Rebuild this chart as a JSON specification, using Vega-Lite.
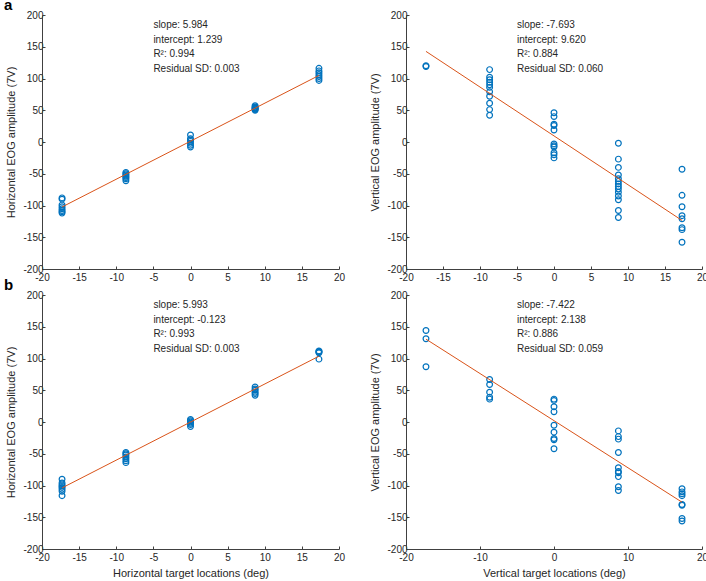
{
  "$schema": "https://vega.github.io/schema/vega-lite/v6.json",
  "padding": {"left": 4, "top": -2, "right": 0, "bottom": 1},
  "background": "white",
  "config": {
    "view": {"stroke": null},
    "font": "Liberation Sans",
    "axis": {
      "grid": false,
      "domainColor": "#404040",
      "tickColor": "#404040",
      "tickSize": -3,
      "labelFont": "Liberation Sans",
      "labelFontSize": 10,
      "labelColor": "#262626",
      "labelFlush": false,
      "labelOverlap": false,
      "labelExpr": "'' + datum.value",
      "titleFont": "Liberation Sans",
      "titleFontSize": 11,
      "titleFontWeight": "normal",
      "titleColor": "#262626"
    },
    "axisX": {"labelPadding": 6, "titlePadding": 5},
    "axisY": {"labelPadding": 2, "titlePadding": 6}
  },
  "datasets": {
    "pts": [
      {"p": "aL", "x": -17.3, "y": -88}, {"p": "aL", "x": -17.3, "y": -90}, {"p": "aL", "x": -17.3, "y": -99}, {"p": "aL", "x": -17.3, "y": -102}, {"p": "aL", "x": -17.3, "y": -105}, {"p": "aL", "x": -17.3, "y": -108}, {"p": "aL", "x": -17.3, "y": -110}, {"p": "aL", "x": -17.3, "y": -112},
      {"p": "aL", "x": -8.7, "y": -48}, {"p": "aL", "x": -8.7, "y": -50}, {"p": "aL", "x": -8.7, "y": -52}, {"p": "aL", "x": -8.7, "y": -54}, {"p": "aL", "x": -8.7, "y": -56}, {"p": "aL", "x": -8.7, "y": -58}, {"p": "aL", "x": -8.7, "y": -61},
      {"p": "aL", "x": 0, "y": 11}, {"p": "aL", "x": 0, "y": 5}, {"p": "aL", "x": 0, "y": 3}, {"p": "aL", "x": 0, "y": 1}, {"p": "aL", "x": 0, "y": -2}, {"p": "aL", "x": 0, "y": -5}, {"p": "aL", "x": 0, "y": -8},
      {"p": "aL", "x": 8.7, "y": 57}, {"p": "aL", "x": 8.7, "y": 55}, {"p": "aL", "x": 8.7, "y": 54}, {"p": "aL", "x": 8.7, "y": 53}, {"p": "aL", "x": 8.7, "y": 52}, {"p": "aL", "x": 8.7, "y": 51}, {"p": "aL", "x": 8.7, "y": 50},
      {"p": "aL", "x": 17.3, "y": 116}, {"p": "aL", "x": 17.3, "y": 112}, {"p": "aL", "x": 17.3, "y": 109}, {"p": "aL", "x": 17.3, "y": 106}, {"p": "aL", "x": 17.3, "y": 103}, {"p": "aL", "x": 17.3, "y": 100}, {"p": "aL", "x": 17.3, "y": 97},

      {"p": "aR", "x": -17.3, "y": 119}, {"p": "aR", "x": -17.3, "y": 120},
      {"p": "aR", "x": -8.7, "y": 114}, {"p": "aR", "x": -8.7, "y": 102}, {"p": "aR", "x": -8.7, "y": 98}, {"p": "aR", "x": -8.7, "y": 94}, {"p": "aR", "x": -8.7, "y": 90}, {"p": "aR", "x": -8.7, "y": 86}, {"p": "aR", "x": -8.7, "y": 79}, {"p": "aR", "x": -8.7, "y": 72}, {"p": "aR", "x": -8.7, "y": 61}, {"p": "aR", "x": -8.7, "y": 51}, {"p": "aR", "x": -8.7, "y": 42},
      {"p": "aR", "x": 0, "y": 46}, {"p": "aR", "x": 0, "y": 40}, {"p": "aR", "x": 0, "y": 28}, {"p": "aR", "x": 0, "y": 26}, {"p": "aR", "x": 0, "y": 19}, {"p": "aR", "x": 0, "y": -3}, {"p": "aR", "x": 0, "y": -6}, {"p": "aR", "x": 0, "y": -8}, {"p": "aR", "x": 0, "y": -17}, {"p": "aR", "x": 0, "y": -20}, {"p": "aR", "x": 0, "y": -25},
      {"p": "aR", "x": 8.7, "y": -2}, {"p": "aR", "x": 8.7, "y": -27}, {"p": "aR", "x": 8.7, "y": -40}, {"p": "aR", "x": 8.7, "y": -52}, {"p": "aR", "x": 8.7, "y": -58}, {"p": "aR", "x": 8.7, "y": -62}, {"p": "aR", "x": 8.7, "y": -66}, {"p": "aR", "x": 8.7, "y": -70}, {"p": "aR", "x": 8.7, "y": -74}, {"p": "aR", "x": 8.7, "y": -79}, {"p": "aR", "x": 8.7, "y": -85}, {"p": "aR", "x": 8.7, "y": -91}, {"p": "aR", "x": 8.7, "y": -108}, {"p": "aR", "x": 8.7, "y": -119},
      {"p": "aR", "x": 17.3, "y": -43}, {"p": "aR", "x": 17.3, "y": -84}, {"p": "aR", "x": 17.3, "y": -102}, {"p": "aR", "x": 17.3, "y": -116}, {"p": "aR", "x": 17.3, "y": -121}, {"p": "aR", "x": 17.3, "y": -135}, {"p": "aR", "x": 17.3, "y": -138}, {"p": "aR", "x": 17.3, "y": -158},

      {"p": "bL", "x": -17.3, "y": -90}, {"p": "bL", "x": -17.3, "y": -96}, {"p": "bL", "x": -17.3, "y": -99}, {"p": "bL", "x": -17.3, "y": -101}, {"p": "bL", "x": -17.3, "y": -103}, {"p": "bL", "x": -17.3, "y": -106}, {"p": "bL", "x": -17.3, "y": -109}, {"p": "bL", "x": -17.3, "y": -116},
      {"p": "bL", "x": -8.7, "y": -48}, {"p": "bL", "x": -8.7, "y": -50}, {"p": "bL", "x": -8.7, "y": -52}, {"p": "bL", "x": -8.7, "y": -55}, {"p": "bL", "x": -8.7, "y": -58}, {"p": "bL", "x": -8.7, "y": -61}, {"p": "bL", "x": -8.7, "y": -64},
      {"p": "bL", "x": 0, "y": 4}, {"p": "bL", "x": 0, "y": 2}, {"p": "bL", "x": 0, "y": 0}, {"p": "bL", "x": 0, "y": -2}, {"p": "bL", "x": 0, "y": -4}, {"p": "bL", "x": 0, "y": -7},
      {"p": "bL", "x": 8.7, "y": 55}, {"p": "bL", "x": 8.7, "y": 52}, {"p": "bL", "x": 8.7, "y": 50}, {"p": "bL", "x": 8.7, "y": 47}, {"p": "bL", "x": 8.7, "y": 45}, {"p": "bL", "x": 8.7, "y": 42},
      {"p": "bL", "x": 17.3, "y": 112}, {"p": "bL", "x": 17.3, "y": 111}, {"p": "bL", "x": 17.3, "y": 110}, {"p": "bL", "x": 17.3, "y": 109}, {"p": "bL", "x": 17.3, "y": 99},

      {"p": "bR", "x": -17.3, "y": 144}, {"p": "bR", "x": -17.3, "y": 131}, {"p": "bR", "x": -17.3, "y": 87},
      {"p": "bR", "x": -8.7, "y": 67}, {"p": "bR", "x": -8.7, "y": 59}, {"p": "bR", "x": -8.7, "y": 47}, {"p": "bR", "x": -8.7, "y": 39}, {"p": "bR", "x": -8.7, "y": 36},
      {"p": "bR", "x": 0, "y": 36}, {"p": "bR", "x": 0, "y": 34}, {"p": "bR", "x": 0, "y": 24}, {"p": "bR", "x": 0, "y": 16}, {"p": "bR", "x": 0, "y": -5}, {"p": "bR", "x": 0, "y": -16}, {"p": "bR", "x": 0, "y": -26}, {"p": "bR", "x": 0, "y": -28}, {"p": "bR", "x": 0, "y": -42},
      {"p": "bR", "x": 8.7, "y": -14}, {"p": "bR", "x": 8.7, "y": -23}, {"p": "bR", "x": 8.7, "y": -27}, {"p": "bR", "x": 8.7, "y": -48}, {"p": "bR", "x": 8.7, "y": -72}, {"p": "bR", "x": 8.7, "y": -78}, {"p": "bR", "x": 8.7, "y": -80}, {"p": "bR", "x": 8.7, "y": -86}, {"p": "bR", "x": 8.7, "y": -102}, {"p": "bR", "x": 8.7, "y": -108},
      {"p": "bR", "x": 17.3, "y": -105}, {"p": "bR", "x": 17.3, "y": -110}, {"p": "bR", "x": 17.3, "y": -113}, {"p": "bR", "x": 17.3, "y": -116}, {"p": "bR", "x": 17.3, "y": -130}, {"p": "bR", "x": 17.3, "y": -131}, {"p": "bR", "x": 17.3, "y": -152}, {"p": "bR", "x": 17.3, "y": -156}
    ],
    "fit": [
      {"p": "aL", "x": -17.3, "y": -102.3}, {"p": "aL", "x": 17.3, "y": 104.8},
      {"p": "aR", "x": -17.3, "y": 142.7}, {"p": "aR", "x": 17.3, "y": -123.5},
      {"p": "bL", "x": -17.3, "y": -103.8}, {"p": "bL", "x": 17.3, "y": 103.6},
      {"p": "bR", "x": -17.3, "y": 130.5}, {"p": "bR", "x": 17.3, "y": -126.3}
    ],
    "notes": [
      {"p": "aL", "x": -5, "y": 184, "t": "slope: 5.984"}, {"p": "aL", "x": -5, "y": 161, "t": "intercept: 1.239"}, {"p": "aL", "x": -5, "y": 138, "t": "R²: 0.994"}, {"p": "aL", "x": -5, "y": 115, "t": "Residual SD: 0.003"},
      {"p": "aR", "x": -5, "y": 184, "t": "slope: -7.693"}, {"p": "aR", "x": -5, "y": 161, "t": "intercept: 9.620"}, {"p": "aR", "x": -5, "y": 138, "t": "R²: 0.884"}, {"p": "aR", "x": -5, "y": 115, "t": "Residual SD: 0.060"},
      {"p": "bL", "x": -5, "y": 184, "t": "slope: 5.993"}, {"p": "bL", "x": -5, "y": 161, "t": "intercept: -0.123"}, {"p": "bL", "x": -5, "y": 138, "t": "R²: 0.993"}, {"p": "bL", "x": -5, "y": 115, "t": "Residual SD: 0.003"},
      {"p": "bR", "x": -5, "y": 184, "t": "slope: -7.422"}, {"p": "bR", "x": -5, "y": 161, "t": "intercept: 2.138"}, {"p": "bR", "x": -5, "y": 138, "t": "R²: 0.886"}, {"p": "bR", "x": -5, "y": 115, "t": "Residual SD: 0.059"}
    ]
  },
  "columns": 2,
  "bounds": "flush",
  "spacing": {"row": 26, "column": 67},
  "concat": [
    {
      "width": 297, "height": 254,
      "title": {"text": "a", "anchor": "start", "frame": "group", "dx": -38, "offset": -3, "fontSize": 15, "fontWeight": "bold", "font": "Liberation Sans", "color": "black"},
      "encoding": {
        "x": {"field": "x", "type": "quantitative", "scale": {"domain": [-20, 20]}, "axis": {"values": [-20, -15, -10, -5, 0, 5, 10, 15, 20], "title": null}},
        "y": {"field": "y", "type": "quantitative", "scale": {"domain": [-200, 200]}, "axis": {"values": [-200, -150, -100, -50, 0, 50, 100, 150, 200], "title": "Horizontal EOG amplitude (7V)"}}
      },
      "layer": [
        {"data": {"name": "pts"}, "transform": [{"filter": "datum.p == 'aL'"}],
         "mark": {"type": "point", "shape": "circle", "filled": false, "size": 33, "strokeWidth": 1.2, "color": "#0072BD", "opacity": 1}},
        {"data": {"name": "fit"}, "transform": [{"filter": "datum.p == 'aL'"}],
         "mark": {"type": "line", "color": "#D95319", "strokeWidth": 1}},
        {"data": {"name": "notes"}, "transform": [{"filter": "datum.p == 'aL'"}],
         "mark": {"type": "text", "align": "left", "baseline": "middle", "fontSize": 10, "font": "Liberation Sans", "color": "#262626"},
         "encoding": {"text": {"field": "t"}}}
      ]
    },
    {
      "width": 296, "height": 254,
      "encoding": {
        "x": {"field": "x", "type": "quantitative", "scale": {"domain": [-20, 20]}, "axis": {"values": [-20, -15, -10, -5, 0, 5, 10, 15, 20], "title": null}},
        "y": {"field": "y", "type": "quantitative", "scale": {"domain": [-200, 200]}, "axis": {"values": [-200, -150, -100, -50, 0, 50, 100, 150, 200], "title": "Vertical EOG amplitude (7V)"}}
      },
      "layer": [
        {"data": {"name": "pts"}, "transform": [{"filter": "datum.p == 'aR'"}],
         "mark": {"type": "point", "shape": "circle", "filled": false, "size": 33, "strokeWidth": 1.2, "color": "#0072BD", "opacity": 1}},
        {"data": {"name": "fit"}, "transform": [{"filter": "datum.p == 'aR'"}],
         "mark": {"type": "line", "color": "#D95319", "strokeWidth": 1}},
        {"data": {"name": "notes"}, "transform": [{"filter": "datum.p == 'aR'"}],
         "mark": {"type": "text", "align": "left", "baseline": "middle", "fontSize": 10, "font": "Liberation Sans", "color": "#262626"},
         "encoding": {"text": {"field": "t"}}}
      ]
    },
    {
      "width": 297, "height": 254,
      "title": {"text": "b", "anchor": "start", "frame": "group", "dx": -38, "offset": -3, "fontSize": 15, "fontWeight": "bold", "font": "Liberation Sans", "color": "black"},
      "encoding": {
        "x": {"field": "x", "type": "quantitative", "scale": {"domain": [-20, 20]}, "axis": {"values": [-20, -15, -10, -5, 0, 5, 10, 15, 20], "title": "Horizontal target locations (deg)"}},
        "y": {"field": "y", "type": "quantitative", "scale": {"domain": [-200, 200]}, "axis": {"values": [-200, -150, -100, -50, 0, 50, 100, 150, 200], "title": "Horizontal EOG amplitude (7V)"}}
      },
      "layer": [
        {"data": {"name": "pts"}, "transform": [{"filter": "datum.p == 'bL'"}],
         "mark": {"type": "point", "shape": "circle", "filled": false, "size": 33, "strokeWidth": 1.2, "color": "#0072BD", "opacity": 1}},
        {"data": {"name": "fit"}, "transform": [{"filter": "datum.p == 'bL'"}],
         "mark": {"type": "line", "color": "#D95319", "strokeWidth": 1}},
        {"data": {"name": "notes"}, "transform": [{"filter": "datum.p == 'bL'"}],
         "mark": {"type": "text", "align": "left", "baseline": "middle", "fontSize": 10, "font": "Liberation Sans", "color": "#262626"},
         "encoding": {"text": {"field": "t"}}}
      ]
    },
    {
      "width": 296, "height": 254,
      "encoding": {
        "x": {"field": "x", "type": "quantitative", "scale": {"domain": [-20, 20]}, "axis": {"values": [-20, -10, 0, 10, 20], "title": "Vertical target locations (deg)"}},
        "y": {"field": "y", "type": "quantitative", "scale": {"domain": [-200, 200]}, "axis": {"values": [-200, -150, -100, -50, 0, 50, 100, 150, 200], "title": "Vertical EOG amplitude (7V)"}}
      },
      "layer": [
        {"data": {"name": "pts"}, "transform": [{"filter": "datum.p == 'bR'"}],
         "mark": {"type": "point", "shape": "circle", "filled": false, "size": 33, "strokeWidth": 1.2, "color": "#0072BD", "opacity": 1}},
        {"data": {"name": "fit"}, "transform": [{"filter": "datum.p == 'bR'"}],
         "mark": {"type": "line", "color": "#D95319", "strokeWidth": 1}},
        {"data": {"name": "notes"}, "transform": [{"filter": "datum.p == 'bR'"}],
         "mark": {"type": "text", "align": "left", "baseline": "middle", "fontSize": 10, "font": "Liberation Sans", "color": "#262626"},
         "encoding": {"text": {"field": "t"}}}
      ]
    }
  ]
}
